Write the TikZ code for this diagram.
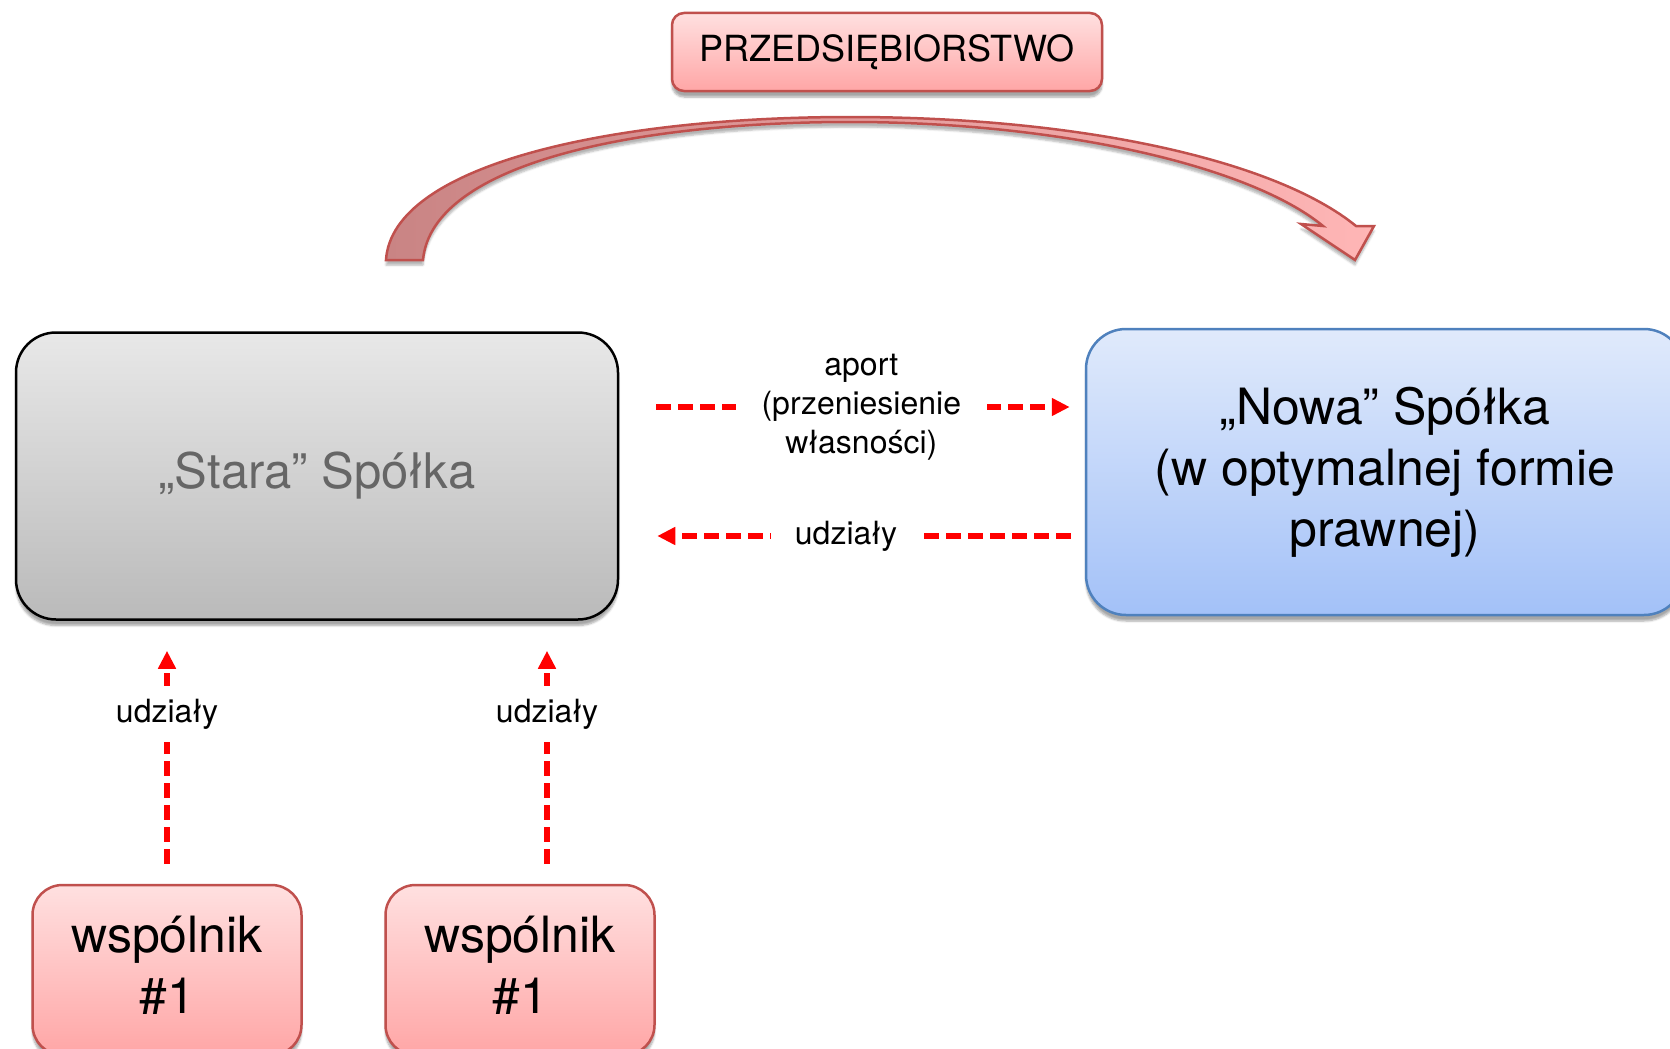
\documentclass[tikz,border=0pt]{standalone}
\usepackage{fontspec}
\setmainfont{TeX Gyre Heros}
\usetikzlibrary{arrows.meta, shadows.blur}

\definecolor{pinkTop}{HTML}{FFE0E0}
\definecolor{pinkBot}{HTML}{FFA6A6}
\definecolor{pinkLine}{HTML}{C0504D}
\definecolor{grayTop}{HTML}{E8E8E8}
\definecolor{grayBot}{HTML}{BABABA}
\definecolor{blueTop}{HTML}{E0EAFB}
\definecolor{blueBot}{HTML}{A3C1F8}
\definecolor{blueLine}{HTML}{4F81BD}
\definecolor{arrowLeft}{HTML}{C98484}
\definecolor{arrowRight}{HTML}{FFB6B6}

\tikzset{
	box/.style={rectangle, inner sep=0pt, align=center, blur shadow={shadow xshift=0pt, shadow yshift=-6pt, shadow blur steps=6, shadow opacity=35}},
	pinkbox/.style={box, draw=pinkLine, line width=2.5pt, top color=pinkTop, bottom color=pinkBot},
	flow/.style={red, line width=5.5pt, dash pattern=on 15pt off 7pt, -{Triangle[length=18pt, width=17pt]}},
	flowlabel/.style={fill=white, text=black, font=\fontsize{32}{39}\selectfont, align=center},
}

\begin{document}
\begin{tikzpicture}[x=1pt, y=-1pt]
	\useasboundingbox (0,0) rectangle (1670,1049);

	\begin{scope}
		\node[pinkbox, rounded corners=12pt, minimum width=430pt, minimum height=78pt, font=\fontsize{36}{43}\selectfont] (firma) at (887,52) {PRZEDSIĘBIORSTWO};
		\node[box, draw=black, line width=2.5pt, rounded corners=40pt, top color=grayTop, bottom color=grayBot, minimum width=602pt, minimum height=287pt, text=black!60, font=\fontsize{49}{58}\selectfont] (stara) at (317,476) {„Stara” Spółka};
		\node[box, draw=blueLine, line width=2.5pt, rounded corners=40pt, top color=blueTop, bottom color=blueBot, minimum width=598pt, minimum height=286pt, font=\fontsize{50}{61}\selectfont] (nowa) at (1385,472) {„Nowa” Spółka\\(w optymalnej formie\\prawnej)};
		\node[pinkbox, rounded corners=30pt, minimum width=269pt, minimum height=170pt, text depth=10pt, font=\fontsize{50}{61}\selectfont] (wsp1) at (167,970) {wspólnik\\\#1};
		\node[pinkbox, rounded corners=30pt, minimum width=269pt, minimum height=170pt, text depth=10pt, font=\fontsize{50}{61}\selectfont] (wsp2) at (520,970) {wspólnik\\\#1};
	\end{scope}

	% przeniesienie przedsiebiorstwa
	\begin{scope}
		\draw[draw=pinkLine, line width=2.5pt, left color=arrowLeft, right color=arrowRight, blur shadow={shadow xshift=0pt, shadow yshift=-5pt, shadow blur steps=5, shadow opacity=30}]
			(386,260) .. controls (392,165) and (610,117) .. (850,117)
			.. controls (1080,117) and (1275,160) .. (1356,226)
			-- (1374,226) -- (1355,260) -- (1301,224) -- (1323,226)
			.. controls (1250,166) and (1060,122) .. (850,122)
			.. controls (640,122) and (432,162) .. (423,260) -- cycle;
	\end{scope}

	\begin{scope}
		\coordinate (aportY) at (0,407);
		\coordinate (udzY) at (0,536);
		\coordinate (a2) at ([xshift=27pt]wsp2.north);

		\draw[flow, shorten <=37pt, shorten >=15pt] (stara.east |- aportY) -- node[flowlabel, pos=0.52, inner xsep=26pt] (aport) {aport\\(przeniesienie\\własności)} (nowa.west |- aportY);
		\draw[flow, shorten <=14pt, shorten >=38pt] (nowa.west |- udzY) -- node[flowlabel, pos=0.513, inner xsep=24pt] (udz) {udziały} (stara.east |- udzY);

		\draw[flow, shorten <=20pt, shorten >=30pt] (wsp1.north) -- node[flowlabel, pos=0.645, inner ysep=13pt] (udz1) {udziały} (wsp1.north |- stara.south);
		\draw[flow, shorten <=20pt, shorten >=30pt] (a2) -- node[flowlabel, pos=0.645, inner ysep=13pt] (udz2) {udziały} (a2 |- stara.south);
	\end{scope}
\end{tikzpicture}
\end{document}
